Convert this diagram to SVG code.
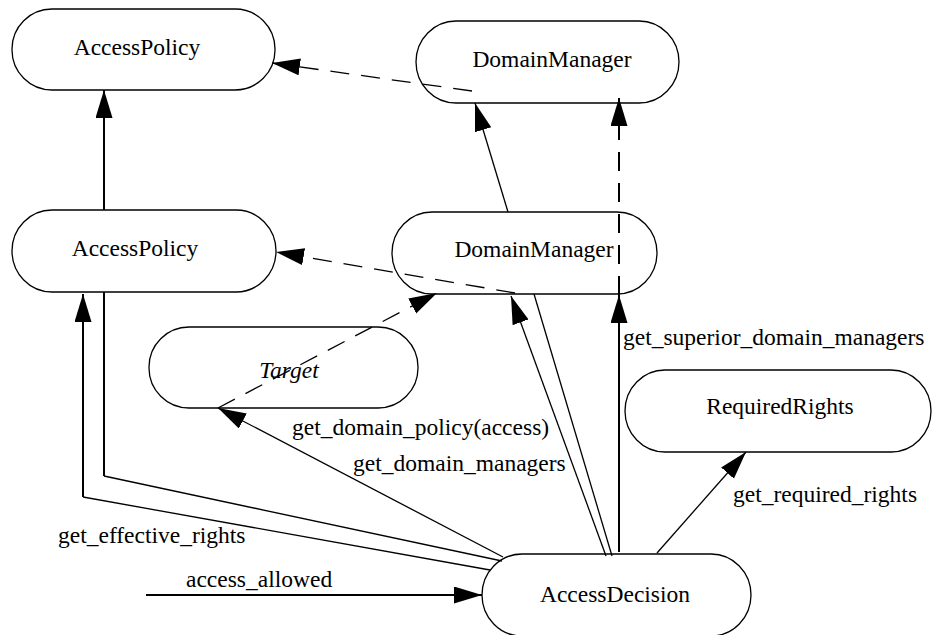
<svg xmlns="http://www.w3.org/2000/svg" width="939" height="635" viewBox="0 0 939 635">
<style>
.node rect{fill:#fff;stroke:#000;stroke-width:1.3}
.node text{font-family:"Liberation Serif","Times New Roman",serif;font-size:23.5px;text-anchor:middle;fill:#000}
.lbl{font-family:"Liberation Serif","Times New Roman",serif;font-size:23.5px;fill:#000}
.c{fill:none;stroke:#000;stroke-width:1.3}
.thick{stroke-width:2}
.dash{stroke-dasharray:19 12}
</style>
<defs>
<marker id="ah" markerUnits="userSpaceOnUse" markerWidth="30" markerHeight="18" refX="28" refY="8.5" orient="auto">
<path d="M0,0 L28,8.5 L0,17 z" fill="#000"/>
</marker>
</defs>
<rect width="939" height="635" fill="#fff"/>
<g id="ap1" class="node"><rect x="12" y="9" width="263" height="81" rx="40" ry="40"/><text x="137" y="55">AccessPolicy</text></g>
<g id="ap2" class="node"><rect x="12" y="210" width="264" height="82" rx="40" ry="41"/><text x="135" y="256">AccessPolicy</text></g>
<g id="dm1" class="node"><rect x="416" y="21" width="263" height="82" rx="40" ry="41"/><text x="552" y="67">DomainManager</text></g>
<g id="dm2" class="node"><rect x="392" y="212" width="265" height="82" rx="40" ry="41"/><text x="534" y="257">DomainManager</text></g>
<g id="target" class="node"><rect x="149" y="327" width="269" height="81" rx="40" ry="40"/><text x="289" y="378" font-style="italic">Target</text></g>
<g id="rr" class="node"><rect x="625" y="370" width="306" height="82" rx="40" ry="41"/><text x="780" y="414">RequiredRights</text></g>
<g id="ad" class="node"><rect x="482" y="554" width="269" height="82" rx="40" ry="41"/><text x="615" y="602">AccessDecision</text></g>
<g id="connectors">
<path class="c thick" d="M104,210 L104,90" marker-end="url(#ah)"/>
<path class="c dash" d="M472,91 L272,63" marker-end="url(#ah)"/>
<path class="c dash" d="M515,293 L276,252" marker-end="url(#ah)"/>
<path class="c" d="M508,212 L475,103" marker-end="url(#ah)"/>
<path class="c thick dash" d="M619,295 L619,98" marker-end="url(#ah)"/>
<path class="c dash" d="M218,408 L437,293" marker-end="url(#ah)"/>
<path class="c" d="M503,557 L218,408" marker-end="url(#ah)"/>
<path class="c" d="M606,556 L511,296" marker-end="url(#ah)"/>
<path class="c" d="M612,556 L534,294"/>
<path class="c thick" d="M619,552 L619,295" marker-end="url(#ah)"/>
<path class="c" d="M490,570 L83,497"/>
<path class="c thick" d="M83,497 L83,294" marker-end="url(#ah)"/>
<path class="c" d="M502,561 L104,476"/>
<path class="c thick" d="M104,476 L104,292"/>
<path class="c thick" d="M146,595 L482,595" marker-end="url(#ah)"/>
<path class="c" d="M657,553 L746,452" marker-end="url(#ah)"/>
</g>
<g id="labels">
<text class="lbl" x="292" y="435">get_domain_policy(access)</text>
<text class="lbl" x="353" y="471">get_domain_managers</text>
<text class="lbl" x="58" y="543">get_effective_rights</text>
<text class="lbl" x="186" y="587">access_allowed</text>
<text class="lbl" x="623" y="345">get_superior_domain_managers</text>
<text class="lbl" x="733" y="502">get_required_rights</text>
</g>
</svg>
